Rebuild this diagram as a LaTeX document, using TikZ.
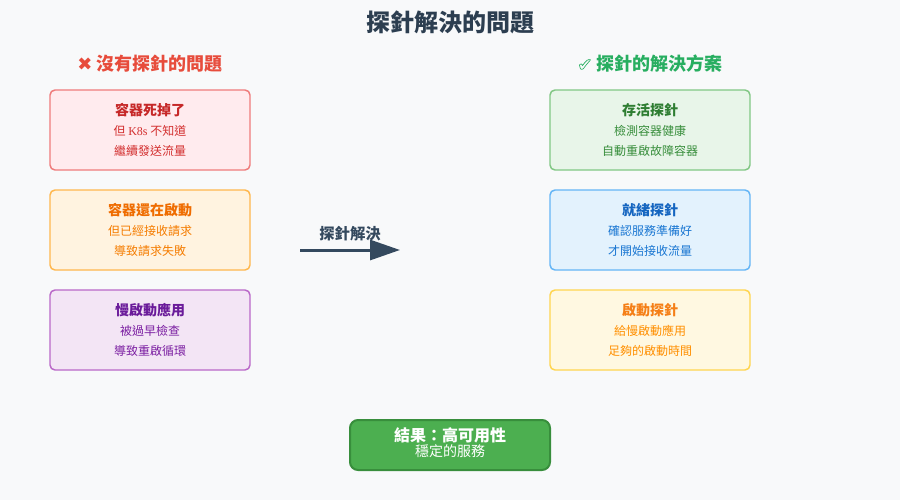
\documentclass[tikz,border=0pt]{standalone}
\usepackage{fontspec}
\setmainfont{Noto Sans CJK TC}
\newfontfamily\symfont{DejaVu Sans}
\newfontfamily\serifk{Liberation Serif}
\usetikzlibrary{arrows.meta}
\definecolor{bg}{HTML}{F8F9FA}
\definecolor{titlec}{HTML}{2C3E50}
\definecolor{redh}{HTML}{E74C3C}
\definecolor{greenh}{HTML}{27AE60}
\definecolor{arrowc}{HTML}{34495E}
\definecolor{rfill}{HTML}{FFEBEE}\definecolor{rdraw}{HTML}{EF7B7B}\definecolor{rtit}{HTML}{C62828}\definecolor{rtxt}{HTML}{D32F2F}
\definecolor{ofill}{HTML}{FFF3E0}\definecolor{odraw}{HTML}{FFB74D}\definecolor{otit}{HTML}{EF6C00}\definecolor{otxt}{HTML}{F57C00}
\definecolor{pfill}{HTML}{F3E5F5}\definecolor{pdraw}{HTML}{BA68C8}\definecolor{ptit}{HTML}{6A1B9A}\definecolor{ptxt}{HTML}{7B1FA2}
\definecolor{gfill}{HTML}{E8F5E9}\definecolor{gdraw}{HTML}{81C784}\definecolor{gtit}{HTML}{2E7D32}\definecolor{gtxt}{HTML}{388E3C}
\definecolor{bfill}{HTML}{E3F2FD}\definecolor{bdraw}{HTML}{64B5F6}\definecolor{btit}{HTML}{1565C0}\definecolor{btxt}{HTML}{1976D2}
\definecolor{yfill}{HTML}{FFF8E1}\definecolor{ydraw}{HTML}{FFD54F}\definecolor{ytit}{HTML}{F57F17}\definecolor{ytxt}{HTML}{FF8F00}
\definecolor{resfill}{HTML}{4CAF50}\definecolor{resdraw}{HTML}{388E3C}
\begin{document}
\begin{tikzpicture}[x=0.75pt,y=-0.75pt,
  card/.style={draw=#1draw,fill=#1fill,line width=1.1pt,rounded corners=3.75pt,
    minimum width=150pt,minimum height=60pt,inner sep=0pt},
  ctitle/.style={text=#1tit,font=\fontsize{10.5}{12}\selectfont\bfseries,inner sep=0pt},
  ctext/.style={text=#1txt,font=\fontsize{9}{11}\selectfont,inner sep=0pt},
  heading/.style={font=\fontsize{13.5}{16}\selectfont\bfseries,inner sep=0pt}]
\useasboundingbox (0,0) rectangle (900,500);
\fill[bg] (0,0) rectangle (900,500);
\node[text=titlec,font=\fontsize{18}{21}\selectfont\bfseries,inner sep=0pt] (title) at (450,22) {探針解決的問題};
\node[heading,text=redh] (hleft) at (150,64) {{\symfont ✖} 沒有探針的問題};
\node[heading,text=greenh] (hright) at (650,64) {{\symfont\mdseries\special{pdf:literal direct 1 Tr 0.5 w}✔\special{pdf:literal direct 0 Tr}} 探針的解決方案};
% left column
\node[card=r] (b1) at (150,130) {};
\node[ctitle=r] (b1t) at (150,110) {容器死掉了};
\node[ctext=r] (b1a) at (150,130.5) {但 {\serifk K8s} 不知道};
\node[ctext=r] (b1b) at (150,151) {繼續發送流量};
\node[card=o] (b2) at (150,230) {};
\node[ctitle=o] (b2t) at (150,210) {容器還在啟動};
\node[ctext=o] (b2a) at (150,230.5) {但已經接收請求};
\node[ctext=o] (b2b) at (150,251) {導致請求失敗};
\node[card=p] (b3) at (150,330) {};
\node[ctitle=p] (b3t) at (150,310) {慢啟動應用};
\node[ctext=p] (b3a) at (150,330.5) {被過早檢查};
\node[ctext=p] (b3b) at (150,351) {導致重啟循環};
% right column
\node[card=g] (c1) at (650,130) {};
\node[ctitle=g] (c1t) at (650,110) {存活探針};
\node[ctext=g] (c1a) at (650,130.5) {檢測容器健康};
\node[ctext=g] (c1b) at (650,151) {自動重啟故障容器};
\node[card=b] (c2) at (650,230) {};
\node[ctitle=b] (c2t) at (650,210) {就緒探針};
\node[ctext=b] (c2a) at (650,230.5) {確認服務準備好};
\node[ctext=b] (c2b) at (650,251) {才開始接收流量};
\node[card=y] (c3) at (650,330) {};
\node[ctitle=y] (c3t) at (650,310) {啟動探針};
\node[ctext=y] (c3a) at (650,330.5) {給慢啟動應用};
\node[ctext=y] (c3b) at (650,351) {足夠的啟動時間};
% arrow
\coordinate (as) at (300,250);
\coordinate (ae) at (400,250);
\draw[arrowc,line width=2.25pt,-{Triangle[length=22.5pt,width=15pt]}] (as) -- (ae);
\node[text=arrowc,font=\fontsize{11.5}{13}\selectfont\bfseries,inner sep=0pt] (alabel) at (350,234) {探針解決};
% result
\node[draw=resdraw,fill=resfill,line width=1.5pt,rounded corners=6pt,minimum width=150pt,minimum height=37.5pt,inner sep=0pt] (res) at (450,445) {};
\node[text=white,font=\fontsize{12}{14}\selectfont\bfseries,inner sep=0pt] (rest) at (450,435) {結果：高可用性};
\node[text=white,font=\fontsize{10.5}{12}\selectfont,inner sep=0pt] (resa) at (450,451) {穩定的服務};
\end{tikzpicture}
\end{document}
